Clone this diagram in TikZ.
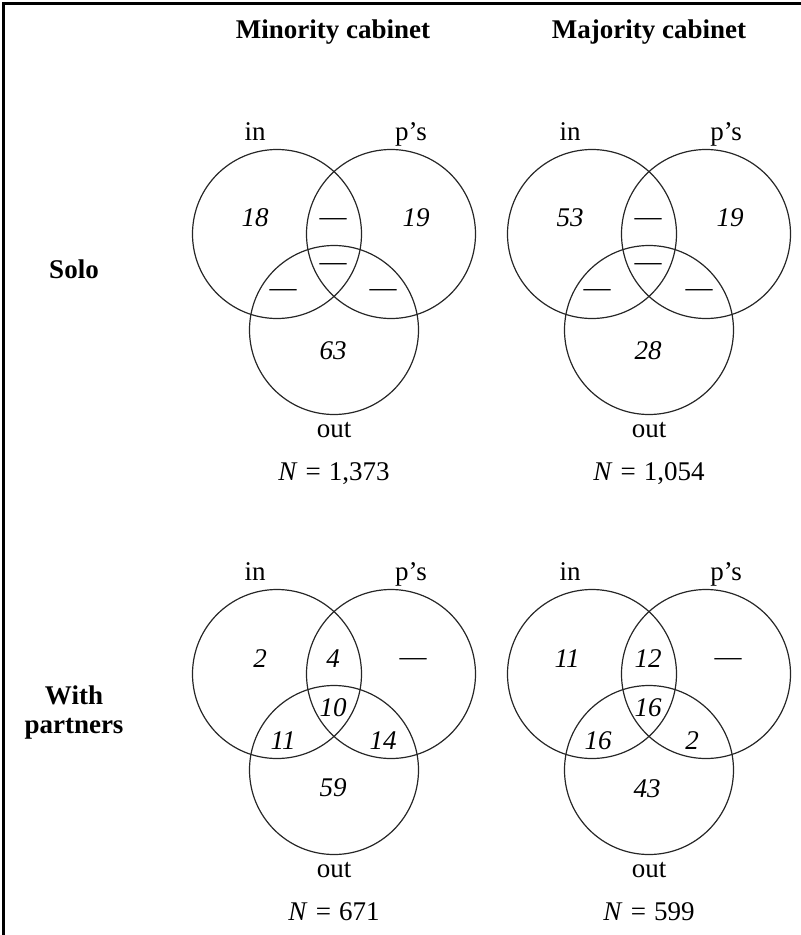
\documentclass[tikz,border=0pt]{standalone}
\usepackage{fontspec}
\setmainfont{Liberation Serif}
\newcommand\nval[1]{\textit{N}\hspace{0.3em}=\hspace{0.3em}#1}
\newcommand\ndash{\upshape —}
\tikzset{
  vc/.style={circle, draw=black!85, line width=1.2pt, minimum size=169pt, inner sep=0pt},
  lab/.style={font=\fontsize{27}{32}\selectfont, anchor=base, inner sep=0pt},
  num/.style={font=\fontsize{27}{32}\selectfont\itshape, anchor=base, inner sep=0pt},
  hdr/.style={font=\fontsize{27}{32}\selectfont\bfseries, anchor=base, inner sep=0pt},
}
\begin{document}
\begin{tikzpicture}[x=1pt,y=-1pt]
\useasboundingbox (0,0) rectangle (801,935);
% frame (top and left edges)
\coordinate (fTL) at (3.5,3.5);
\coordinate (fTR) at (801,3.5);
\coordinate (fBL) at (3.5,935);
\draw[line width=2.5pt] (fBL) -- (fTL) -- (fTR);

% headers
\node[hdr] (hMin) at (333,38) {Minority cabinet};
\node[hdr] (hMaj) at (649,38) {Majority cabinet};
% row labels
\node[hdr] (rSolo) at (74,278) {Solo};
\node[hdr] (rWith) at (74,704) {With};
\node[hdr] (rPart) at (74,733) {partners};

% ---------- Minority, Solo ----------
\node[vc] (a1in)  at (277,234) {};
\node[vc] (a1ps)  at (391,234) {};
\node[vc] (a1out) at (334,330) {};
\node[lab] (a1lin)  at (255,140) {in};
\node[lab] (a1lps)  at (411,140) {p’s};
\node[lab] (a1lout) at (334,437) {out};
\node[lab] (a1N)    at (334,480) {\nval{1,373}};
\node[num] (a1A)   at (255,226) {18};
\node[num] (a1B)   at (416,226) {19};
\node[num] (a1AB)  at (333,225) {\ndash};
\node[num] (a1ABC) at (333,270) {\ndash};
\node[num] (a1AC)  at (283,296) {\ndash};
\node[num] (a1BC)  at (383,296) {\ndash};
\node[num] (a1C)   at (333,359) {63};

% ---------- Majority, Solo ----------
\node[vc] (b1in)  at (592,234) {};
\node[vc] (b1ps)  at (706,234) {};
\node[vc] (b1out) at (649,330) {};
\node[lab] (b1lin)  at (570,140) {in};
\node[lab] (b1lps)  at (726,140) {p’s};
\node[lab] (b1lout) at (649,437) {out};
\node[lab] (b1N)    at (649,480) {\nval{1,054}};
\node[num] (b1A)   at (570,226) {53};
\node[num] (b1B)   at (730,226) {19};
\node[num] (b1AB)  at (648,225) {\ndash};
\node[num] (b1ABC) at (648,270) {\ndash};
\node[num] (b1AC)  at (597,296) {\ndash};
\node[num] (b1BC)  at (699,296) {\ndash};
\node[num] (b1C)   at (648,359) {28};

% ---------- Minority, With partners ----------
\node[vc] (a2in)  at (277,674) {};
\node[vc] (a2ps)  at (391,674) {};
\node[vc] (a2out) at (334,770) {};
\node[lab] (a2lin)  at (255,580) {in};
\node[lab] (a2lps)  at (411,580) {p’s};
\node[lab] (a2lout) at (334,877) {out};
\node[lab] (a2N)    at (334,920) {\nval{671}};
\node[num] (a2A)   at (260,667) {2};
\node[num] (a2B)   at (413,665) {\ndash};
\node[num] (a2AB)  at (333,667) {4};
\node[num] (a2ABC) at (333,716) {10};
\node[num] (a2AC)  at (283,749) {11};
\node[num] (a2BC)  at (383,749) {14};
\node[num] (a2C)   at (333,796) {59};

% ---------- Majority, With partners ----------
\node[vc] (b2in)  at (592,674) {};
\node[vc] (b2ps)  at (706,674) {};
\node[vc] (b2out) at (649,770) {};
\node[lab] (b2lin)  at (570,580) {in};
\node[lab] (b2lps)  at (726,580) {p’s};
\node[lab] (b2lout) at (649,877) {out};
\node[lab] (b2N)    at (649,920) {\nval{599}};
\node[num] (b2A)   at (567,667) {11};
\node[num] (b2B)   at (728,665) {\ndash};
\node[num] (b2AB)  at (648,667) {12};
\node[num] (b2ABC) at (648,716) {16};
\node[num] (b2AC)  at (598,749) {16};
\node[num] (b2BC)  at (692,749) {2};
\node[num] (b2C)   at (647,797) {43};
\end{tikzpicture}
\end{document}
